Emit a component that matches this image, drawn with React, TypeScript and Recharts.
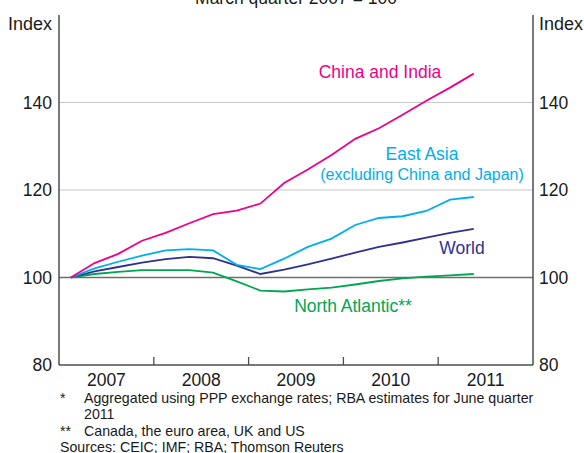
import React from 'react';
import { LineChart, Line, XAxis, YAxis, ReferenceLine } from 'recharts';

const quarters = [
  '2007 Q1', '2007 Q2', '2007 Q3', '2007 Q4',
  '2008 Q1', '2008 Q2', '2008 Q3', '2008 Q4',
  '2009 Q1', '2009 Q2', '2009 Q3', '2009 Q4',
  '2010 Q1', '2010 Q2', '2010 Q3', '2010 Q4',
  '2011 Q1', '2011 Q2',
];
const chinaIndia = [100, 103.3, 105.4, 108.4, 110.2, 112.4, 114.5, 115.3, 116.9, 121.6, 124.7, 128.0, 131.7, 134.1, 137.2, 140.4, 143.4, 146.6];
const eastAsia = [100, 102.1, 103.6, 105.0, 106.2, 106.5, 106.2, 102.9, 101.9, 104.3, 107.0, 108.9, 112.0, 113.6, 114.0, 115.2, 117.8, 118.4];
const world = [100, 101.4, 102.4, 103.4, 104.2, 104.7, 104.4, 102.7, 100.8, 101.8, 103.0, 104.3, 105.7, 107.0, 108.0, 109.1, 110.2, 111.1];
const northAtlantic = [100, 100.8, 101.3, 101.7, 101.7, 101.7, 101.1, 99.1, 97.0, 96.8, 97.3, 97.7, 98.4, 99.2, 99.8, 100.2, 100.5, 100.8];

const yTicks = [80, 100, 120, 140];
const yearLabels = ['2007', '2008', '2009', '2010', '2011'];
const footnotes = [
  { mark: '*', lines: ['Aggregated using PPP exchange rates; RBA estimates for June quarter', '2011'] },
  { mark: '**', lines: ['Canada, the euro area, UK and US'] },
];
const sources = 'Sources: CEIC; IMF; RBA; Thomson Reuters';

const data = quarters.map((q, i) => {
  const [yr, qq] = q.split(' Q');
  return {
    t: Number(yr) + (Number(qq) - 0.5) / 4,
    chinaIndia: chinaIndia[i],
    eastAsia: eastAsia[i],
    world: world[i],
    northAtlantic: northAtlantic[i],
  };
});

const firstYear = Number(yearLabels[0]);
const lastYear = firstYear + yearLabels.length;
const xTicks: number[] = [];
for (let y = firstYear; y <= lastYear; y++) {
  xTicks.push(y);
  if (y < lastYear) xTicks.push(y + 0.5);
}

const FONT = '"Liberation Sans", Arial, Helvetica, sans-serif';
const TEXT = '#1a1a1a';
const FRAME = '#4d4d4d';
const PINK = '#ec008c';
const CYAN = '#00aeef';
const NAVY = '#2e3192';
const GREEN = '#00a651';

const XTick = (props: any) => {
  const { x, y, payload } = props;
  const v = payload.value as number;
  if (Number.isInteger(v)) {
    if (v === firstYear || v === lastYear) return <g />;
    return <line x1={x} x2={x} y1={y} y2={y - 8} stroke={FRAME} strokeWidth={1.3} />;
  }
  return (
    <text x={x} y={y + 21} textAnchor="middle" fontSize={17.5} fill={TEXT} fontFamily={FONT}>
      {yearLabels[Math.floor(v) - firstYear]}
    </text>
  );
};

const YTickRight = (props: any) => {
  const { x, y, payload } = props;
  return (
    <text x={x} y={y} dy="0.36em" textAnchor="start" fontSize={17.5} fill={TEXT} fontFamily={FONT}>
      {payload.value}
    </text>
  );
};

const axisLine = { stroke: FRAME, strokeWidth: 1.5 };
const tickStyle = { fontSize: 17.5, fill: TEXT, fontFamily: FONT };

export default function App() {
  return (
    <div style={{ position: 'absolute', left: 0, top: 0, width: 584, height: 453, background: '#fff', overflow: 'hidden' }}>
      <LineChart width={584} height={453} data={data} margin={{ top: 15, right: 0, bottom: 0, left: 0 }}>
        <XAxis
          xAxisId="b"
          dataKey="t"
          type="number"
          domain={[firstYear, lastYear]}
          ticks={xTicks}
          interval={0}
          tick={<XTick />}
          tickLine={false}
          tickSize={0}
          tickMargin={0}
          height={88}
          axisLine={axisLine}
          allowDataOverflow
        />
        <XAxis
          xAxisId="top"
          orientation="top"
          dataKey="t"
          type="number"
          domain={[firstYear, lastYear]}
          tick={false}
          tickLine={false}
          height={0}
          axisLine={axisLine}
        />
        <YAxis
          yAxisId="l"
          domain={[80, 160]}
          ticks={yTicks}
          interval={0}
          width={59}
          tickLine={false}
          tickMargin={1}
          tick={tickStyle}
          axisLine={axisLine}
        />
        <YAxis
          yAxisId="r"
          orientation="right"
          domain={[80, 160]}
          ticks={yTicks}
          interval={0}
          width={51}
          tickLine={false}
          tickMargin={0}
          tick={<YTickRight />}
          axisLine={axisLine}
        />
        <ReferenceLine xAxisId="b" yAxisId="l" y={120} stroke="#c8c8c8" strokeWidth={1.2} />
        <ReferenceLine xAxisId="b" yAxisId="l" y={140} stroke="#c8c8c8" strokeWidth={1.2} />
        <ReferenceLine xAxisId="b" yAxisId="r" y={100} stroke="#6e6e6e" strokeWidth={1.5} />
        <Line xAxisId="b" yAxisId="r" dataKey="northAtlantic" stroke={GREEN} strokeWidth={1.8} dot={false} isAnimationActive={false} />
        <Line xAxisId="b" yAxisId="r" dataKey="world" stroke={NAVY} strokeWidth={1.8} dot={false} isAnimationActive={false} />
        <Line xAxisId="b" yAxisId="l" dataKey="eastAsia" stroke={CYAN} strokeWidth={1.8} dot={false} isAnimationActive={false} />
        <Line xAxisId="b" yAxisId="l" dataKey="chinaIndia" stroke={PINK} strokeWidth={1.8} dot={false} isAnimationActive={false} />
      </LineChart>
      <svg width={584} height={453} style={{ position: 'absolute', left: 0, top: 0, pointerEvents: 'none' }} fontFamily={FONT}>
        <text x={296} y={4} textAnchor="middle" fontSize={17.5} fill={TEXT}>March quarter 2007 = 100</text>
        <text x={52} y={30} textAnchor="end" fontSize={18} fill={TEXT}>Index</text>
        <text x={539} y={30} textAnchor="start" fontSize={18} fill={TEXT}>Index</text>
        <text x={380} y={78} textAnchor="middle" fontSize={17.5} fill={PINK}>China and India</text>
        <text x={422} y={160} textAnchor="middle" fontSize={17.5} fill={CYAN}>East Asia</text>
        <text x={422} y={180} textAnchor="middle" fontSize={16} fill={CYAN}>(excluding China and Japan)</text>
        <text x={462} y={254} textAnchor="middle" fontSize={17.5} fill={NAVY}>World</text>
        <text x={353} y={312} textAnchor="middle" fontSize={17.5} fill={GREEN}>North Atlantic**</text>
        <text x={60} y={403} fontSize={14.2} fill={TEXT}>{footnotes[0].mark}</text>
        <text x={84} y={403} fontSize={14.2} fill={TEXT}>{footnotes[0].lines[0]}</text>
        <text x={84} y={419} fontSize={14.2} fill={TEXT}>{footnotes[0].lines[1]}</text>
        <text x={60} y={436} fontSize={14.2} fill={TEXT}>{footnotes[1].mark}</text>
        <text x={84} y={436} fontSize={14.2} fill={TEXT}>{footnotes[1].lines[0]}</text>
        <text x={60} y={452} fontSize={14.2} fill={TEXT}>{sources}</text>
      </svg>
    </div>
  );
}
